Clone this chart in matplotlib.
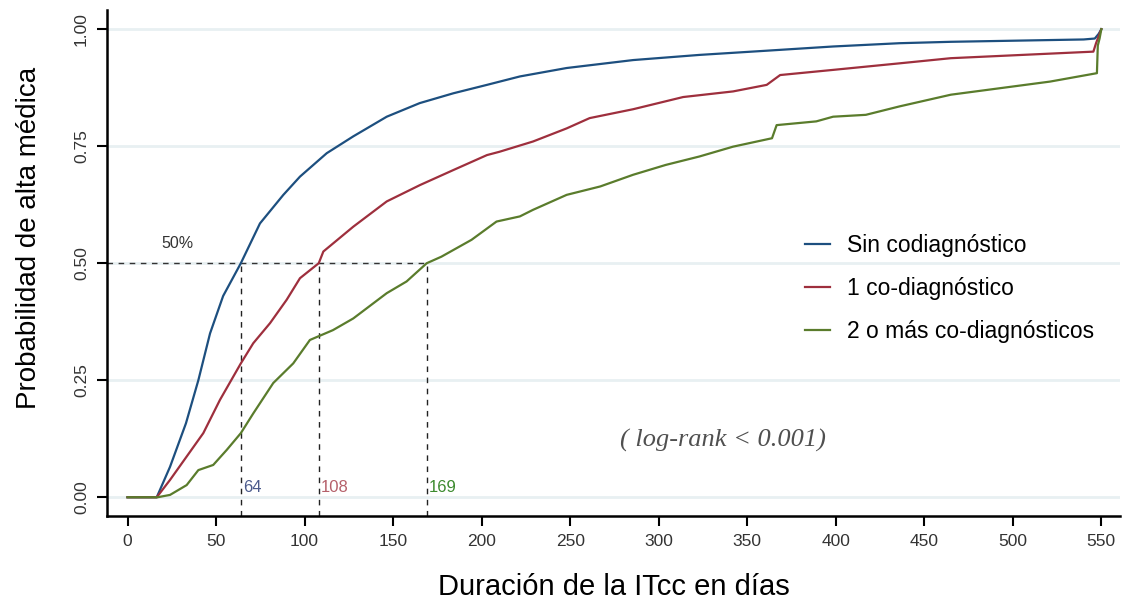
import numpy as np
import matplotlib.pyplot as plt

plt.rcParams['font.family'] = ['Liberation Sans', 'DejaVu Sans']

### curves (day, probability)
dias_sin = [0, 16.5, 24, 33, 40, 46.6, 54, 64, 74.8, 88, 97.4, 112.5, 127.5, 146.4,
            165, 184, 203, 221.6, 248, 285.6, 323, 361, 398.5, 436, 465, 540, 546.3,
            548.5, 550]
prob_sin = [0, 0, 0.065, 0.158, 0.25, 0.35, 0.43, 0.50, 0.585, 0.646, 0.685, 0.735,
            0.771, 0.813, 0.842, 0.863, 0.881, 0.899, 0.917, 0.934, 0.945, 0.954,
            0.963, 0.970, 0.973, 0.978, 0.980, 0.99, 1.0]

dias_1co = [0, 16.5, 24, 33.4, 42.8, 52.2, 64, 71, 80.5, 89.9, 97.4, 108, 110.6,
            127.5, 146.4, 165.2, 184, 203, 210, 229, 248, 261, 285.6, 313.8, 342, 361,
            368.6, 398.5, 436, 465, 545.5, 547, 549, 550]
prob_1co = [0, 0, 0.037, 0.087, 0.137, 0.208, 0.286, 0.329, 0.372, 0.422, 0.468, 0.50,
            0.525, 0.578, 0.632, 0.667, 0.699, 0.731, 0.738, 0.76, 0.788, 0.81, 0.829,
            0.855, 0.867, 0.881, 0.902, 0.913, 0.927, 0.938, 0.952, 0.97, 0.99, 1.0]

dias_2co = [0, 17, 24, 33.4, 40, 48.4, 56, 64, 71, 82.3, 93.6, 103, 116, 127.5, 146.4,
            157.6, 169, 177.3, 194.3, 208.4, 221.6, 229, 248, 267, 285.6, 304, 323, 342,
            364, 366.6, 389, 398.5, 417, 436, 465, 521, 547.5, 548, 549, 550]
prob_2co = [0, 0, 0.005, 0.026, 0.058, 0.069, 0.101, 0.137, 0.179, 0.244, 0.286, 0.336,
            0.357, 0.382, 0.436, 0.461, 0.50, 0.514, 0.55, 0.589, 0.60, 0.614, 0.646,
            0.664, 0.689, 0.71, 0.728, 0.749, 0.767, 0.795, 0.803, 0.813, 0.817, 0.835,
            0.86, 0.888, 0.906, 0.965, 0.98, 1.0]

etiquetas = ['Sin codiagnóstico', '1 co-diagnóstico', '2 o más co-diagnósticos']
colores = ['#1d4f7f', '#9e2f3d', '#5a7c2c']
medianas = [64, 108, 169]
color_med = ['#4b5a8c', '#b5606a', '#3d8b2f']

fig = plt.figure(figsize=(11.25, 6.12), dpi=100)
ax = fig.add_axes([0.0951, 0.1569, 0.9004, 0.8268])

for y in [0, 0.25, 0.5, 0.75, 1.0]:
    ax.axhline(y, color='#e8f0f2', lw=2, zorder=0)

ax.plot(dias_sin, prob_sin, color=colores[0], lw=1.6, label=etiquetas[0])
ax.plot(dias_1co, prob_1co, color=colores[1], lw=1.6, label=etiquetas[1])
ax.plot(dias_2co, prob_2co, color=colores[2], lw=1.6, label=etiquetas[2])

ax.set_xlim(-11.6, 560.5)
ax.set_ylim(-0.04, 1.041)

# median lines
ax.plot([-11.6, medianas[2]], [0.5, 0.5], color='#333333', lw=1, ls=(0, (4, 4)), zorder=1)
for m, c in zip(medianas, color_med):
    ax.plot([m, m], [-0.04, 0.5], color='#222222', lw=1, ls=(0, (4, 4)), zorder=1)
    ax.text(m + 1.2, 0.02, str(m), color=c, fontsize=12, va='center', ha='left')
ax.text(28, 0.543, '50%', color='#333333', fontsize=11.5, ha='center', va='center')

ax.text(336, 0.122, '( log-rank < 0.001)', family=['Liberation Serif', 'DejaVu Serif'],
        style='italic', fontsize=19, color='#505050', ha='center', va='center')

leg = ax.legend(loc='upper left', bbox_to_anchor=(0.669, 0.598), frameon=False,
                fontsize=16.5, handlelength=1.1, handletextpad=0.7, labelspacing=0.88)

ax.set_xticks(np.arange(0, 551, 50))
ax.set_yticks([0, 0.25, 0.5, 0.75, 1.0])
ax.set_yticklabels(['0.00', '0.25', '0.50', '0.75', '1.00'], rotation=90, va='center')
ax.tick_params(axis='both', length=7, width=1.5, labelsize=12.5, labelcolor='#333333',
               pad=6)

for s in ['top', 'right']:
    ax.spines[s].set_visible(False)
for s in ['left', 'bottom']:
    ax.spines[s].set_linewidth(1.8)

ax.set_xlabel('Duración de la ITcc en días', fontsize=21, labelpad=17)
ax.set_ylabel('Probabilidad de alta médica', fontsize=20)
ax.yaxis.set_label_coords(-0.064, 0.55)

fig.savefig('out.png', dpi=100)
